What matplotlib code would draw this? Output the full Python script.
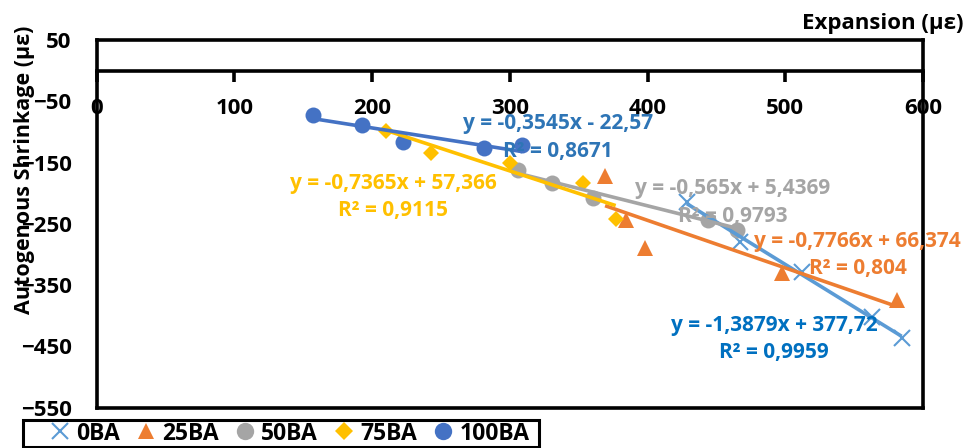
import matplotlib
matplotlib.use('Agg')
import matplotlib.pyplot as plt
from matplotlib.lines import Line2D
from matplotlib.patches import Rectangle
import numpy as np

plt.rcParams['font.family'] = ['Open Sans', 'DejaVu Sans']
plt.rcParams['font.weight'] = 'bold'

series_names = ['0BA', '25BA', '50BA', '75BA', '100BA']

# expansion (x) and autogenous shrinkage (y), micro-strain
x_0ba = [428.5, 467.1, 511.9, 562.8, 584.5]
y_0ba = [-213.9, -279.2, -328.2, -401.6, -436.9]
x_25ba = [369.2, 384.3, 398.2, 497.4, 580.9]
y_25ba = [-172.5, -243.0, -289.0, -330.8, -374.3]
x_50ba = [306.2, 330.5, 360.7, 444.1, 464.8]
y_50ba = [-162.3, -182.9, -208.4, -243.8, -260.1]
x_75ba = [210.5, 242.7, 300.0, 353.4, 376.9]
y_75ba = [-99.0, -134.0, -150.0, -184.0, -242.2]
x_100ba = [157.2, 193.0, 222.7, 281.6, 309.0]
y_100ba = [-72.5, -89.5, -116.0, -127.0, -122.0]

# linear trendlines y = a*x + b and their R²
trend_slope = [-1.3879, -0.7766, -0.565, -0.7365, -0.3545]
trend_icept = [377.72, 66.374, 5.4369, 57.366, -22.57]
trend_r2 = [0.9959, 0.804, 0.9793, 0.9115, 0.8671]

xs = [x_0ba, x_25ba, x_50ba, x_75ba, x_100ba]
ys = [y_0ba, y_25ba, y_50ba, y_75ba, y_100ba]

colors = ['#5B9BD5', '#ED7D31', '#A5A5A5', '#FFC000', '#4472C4']
label_colors = ['#0070C0', '#ED7D31', '#A5A5A5', '#FFC000', '#2E75B6']
markers = ['x', '^', 'o', 'D', 'o']
msizes = [11, 11, 11.5, 8.5, 11.5]
# where each trendline equation sits (data coords)
label_pos = [(491.8, -438), (552.5, -301), (462, -215), (215.2, -205.8), (335, -109)]


def fmt_num(v):
    return str(v).replace('.', ',')


def equation(a, b):
    sign = '-' if b < 0 else '+'
    return 'y = ' + fmt_num(a) + 'x ' + sign + ' ' + fmt_num(abs(b))


fig = plt.figure(figsize=(9.66, 4.48), dpi=100)
ax = fig.add_axes([0.0999, 0.09, 0.8556, 0.8207])

for i in range(5):
    x = np.array(xs[i])
    y = np.array(ys[i])
    if markers[i] == 'x':
        ax.plot(x, y, linestyle='none', marker='x', markersize=msizes[i],
                markeredgewidth=1.5, color=colors[i], zorder=3)
    else:
        ax.plot(x, y, linestyle='none', marker=markers[i], markersize=msizes[i],
                color=colors[i], markeredgewidth=0, zorder=3)
    tx = np.array([x.min(), x.max()])
    ax.plot(tx, trend_slope[i] * tx + trend_icept[i], color=colors[i], lw=2.6,
            solid_capstyle='butt', zorder=4)

for i in range(5):
    txt = equation(trend_slope[i], trend_icept[i]) + '\nR² = ' + fmt_num(trend_r2[i])
    ax.text(label_pos[i][0], label_pos[i][1], txt, color=label_colors[i],
            fontsize=15, fontweight='bold', ha='center', va='center',
            multialignment='center', linespacing=1.4, zorder=6, clip_on=False)

ax.set_xlim(0, 600)
ax.set_ylim(-550, 50)
ax.set_xticks(np.arange(0, 601, 100))
ax.set_yticks(np.arange(-550, 51, 100))

for s in ['left', 'right', 'top']:
    ax.spines[s].set_linewidth(2.6)
ax.spines['bottom'].set_position(('data', 0))
ax.spines['bottom'].set_linewidth(2.6)
ax.axhline(-550, color='black', lw=2.6, clip_on=False, zorder=2.5)

ax.tick_params(axis='x', direction='out', length=8, width=2.6, pad=12, labelsize=16)
ax.tick_params(axis='y', length=0, pad=18, labelsize=16)
for lbl in ax.get_xticklabels() + ax.get_yticklabels():
    lbl.set_fontweight('bold')

fig.text(0.997, 0.948, 'Expansion (με)', ha='right', va='center', fontsize=16,
         fontweight='bold')
fig.text(0.025, 0.62, 'Autogenous Shrinkage (με)', rotation=90, ha='center',
         va='center', fontsize=15.5, fontweight='bold')

handles = []
for i in range(5):
    if markers[i] == 'x':
        h = Line2D([], [], linestyle='none', marker='x', markersize=12,
                   markeredgewidth=1.5, color=colors[i])
    else:
        h = Line2D([], [], linestyle='none', marker=markers[i],
                   markersize=msizes[i] + 1, markeredgewidth=0, color=colors[i])
    handles.append(h)

# legend box drawn separately so its frame is fixed in figure coords
fig.patches.append(Rectangle((23 / 966, 1 - 447 / 448), 516 / 966, 27 / 448,
                             transform=fig.transFigure, fill=False,
                             edgecolor='black', linewidth=2.2))
leg = fig.legend(handles, series_names, ncol=5, loc='center',
                 bbox_to_anchor=(290 / 966, 1 - 433.5 / 448),
                 bbox_transform=fig.transFigure, fontsize=16.5, frameon=False,
                 handlelength=0.8, handletextpad=0.3, columnspacing=0.75,
                 borderpad=0.0, borderaxespad=0)
for t in leg.get_texts():
    t.set_fontweight('bold')

fig.savefig('out.png', dpi=100)
